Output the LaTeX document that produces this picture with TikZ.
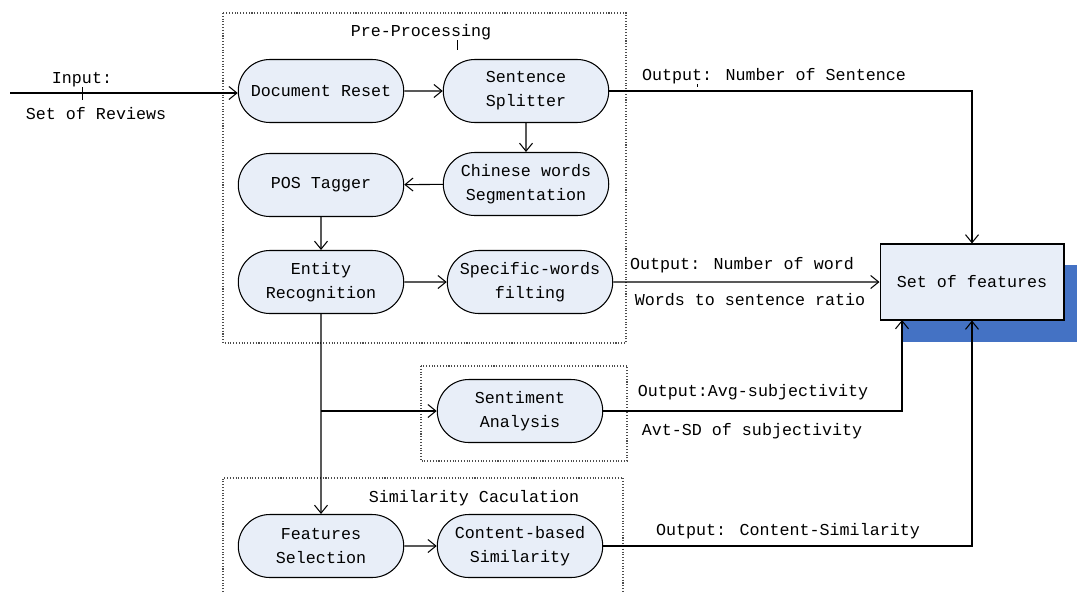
\documentclass[tikz,border=0pt]{standalone}
\usepackage{fontspec}
\setmainfont{Liberation Mono}
\usetikzlibrary{shapes.misc,arrows.meta}

\definecolor{pillfill}{RGB}{232,238,248}
\definecolor{shadowblue}{RGB}{68,114,196}

\begin{document}
\begin{tikzpicture}[x=0.02cm,y=-0.02cm,
  font=\fontsize{9.5}{13.5}\selectfont,
  stage/.style={rounded rectangle,draw,line width=0.6pt,fill=pillfill,
    minimum width=3.38cm,minimum height=1.26cm,align=center,inner sep=1pt},
  group/.style={densely dotted,draw=black!70,line width=0.6pt},
  flow/.style={line width=0.6pt,-{Straight Barb[length=1.6mm,width=2.6mm]}},
  lbl/.style={inner sep=0pt,anchor=base}]

\useasboundingbox (0,0) rectangle (1077,592);

% dotted group frames
\draw[group] (223,13) rectangle (626,343);
\draw[group] (421,366) rectangle (627,461);
\draw[group] (223,592) -- (223,478) -- (623,478) -- (623,592);

\node[lbl] (prelbl) at (421,36) {Pre-Processing};
\node[lbl] (simlbl) at (474,502) {Similarity Caculation};
\draw[line width=0.5pt] (457,40) -- (457,50);

% processing stages
\node[stage] (reset) at (321,91) {Document Reset};
\node[stage] (split) at (526,91) {Sentence\\Splitter};
\node[stage] (seg) at (526,184) {Chinese words\\Segmentation};
\node[stage] (pos) at (321,185) {POS Tagger};
\node[stage] (ent) at (321,282) {Entity\\Recognition};
\node[stage] (filt) at (530,282) {Specific-words\\filting};
\node[stage] (sent) at (520,411) {Sentiment\\Analysis};
\node[stage] (fsel) at (321,546) {Features\\Selection};
\node[stage] (cont) at (520,546) {Content-based\\Similarity};

% output box with its shadow
\fill[shadowblue] (902,265) rectangle (1077,342);
\node[draw,line width=0.6pt,fill=pillfill,minimum width=3.68cm,minimum height=1.52cm]
  (feat) at (972,282) {Set of features};

\coordinate (in) at (10,93);
\coordinate (br) at (321,411);
\coordinate (sentin) at (902,320);

\draw[flow] (in) -- (reset.west |- in);
\draw[line width=0.5pt] (82,87) -- (82,100);
\node[lbl] at (82,83) {Input:};
\node[lbl] at (96,119) {Set of Reviews};

\draw[flow] (reset) -- (split);
\draw[flow] (split.east) -| (feat.north);
\node[lbl] at (774,80) {Output: Number of Sentence};
\draw[line width=0.5pt] (697,84) -- (697,87);

\draw[flow] (split) -- (seg);
\draw[flow] (seg) -- (pos);
\draw[flow] (pos) -- (ent);
\draw[flow] (ent) -- (filt);
\draw[flow] (filt) -- (feat);
\node[lbl] at (742,269) {Output: Number of word};
\node[lbl] at (750,305) {Words to sentence ratio};

\draw[flow] (ent) -- (fsel);
\draw[flow] (br) -- (sent);
\draw[flow] (sent.east) -| (sentin);
\node[lbl] at (753,396) {Output:Avg-subjectivity};
\node[lbl] at (752,435) {Avt-SD of subjectivity};

\draw[flow] (fsel) -- (cont);
\draw[flow] (cont.east) -| (feat.south);
\node[lbl] at (788,535) {Output: Content-Similarity};
\end{tikzpicture}
\end{document}
